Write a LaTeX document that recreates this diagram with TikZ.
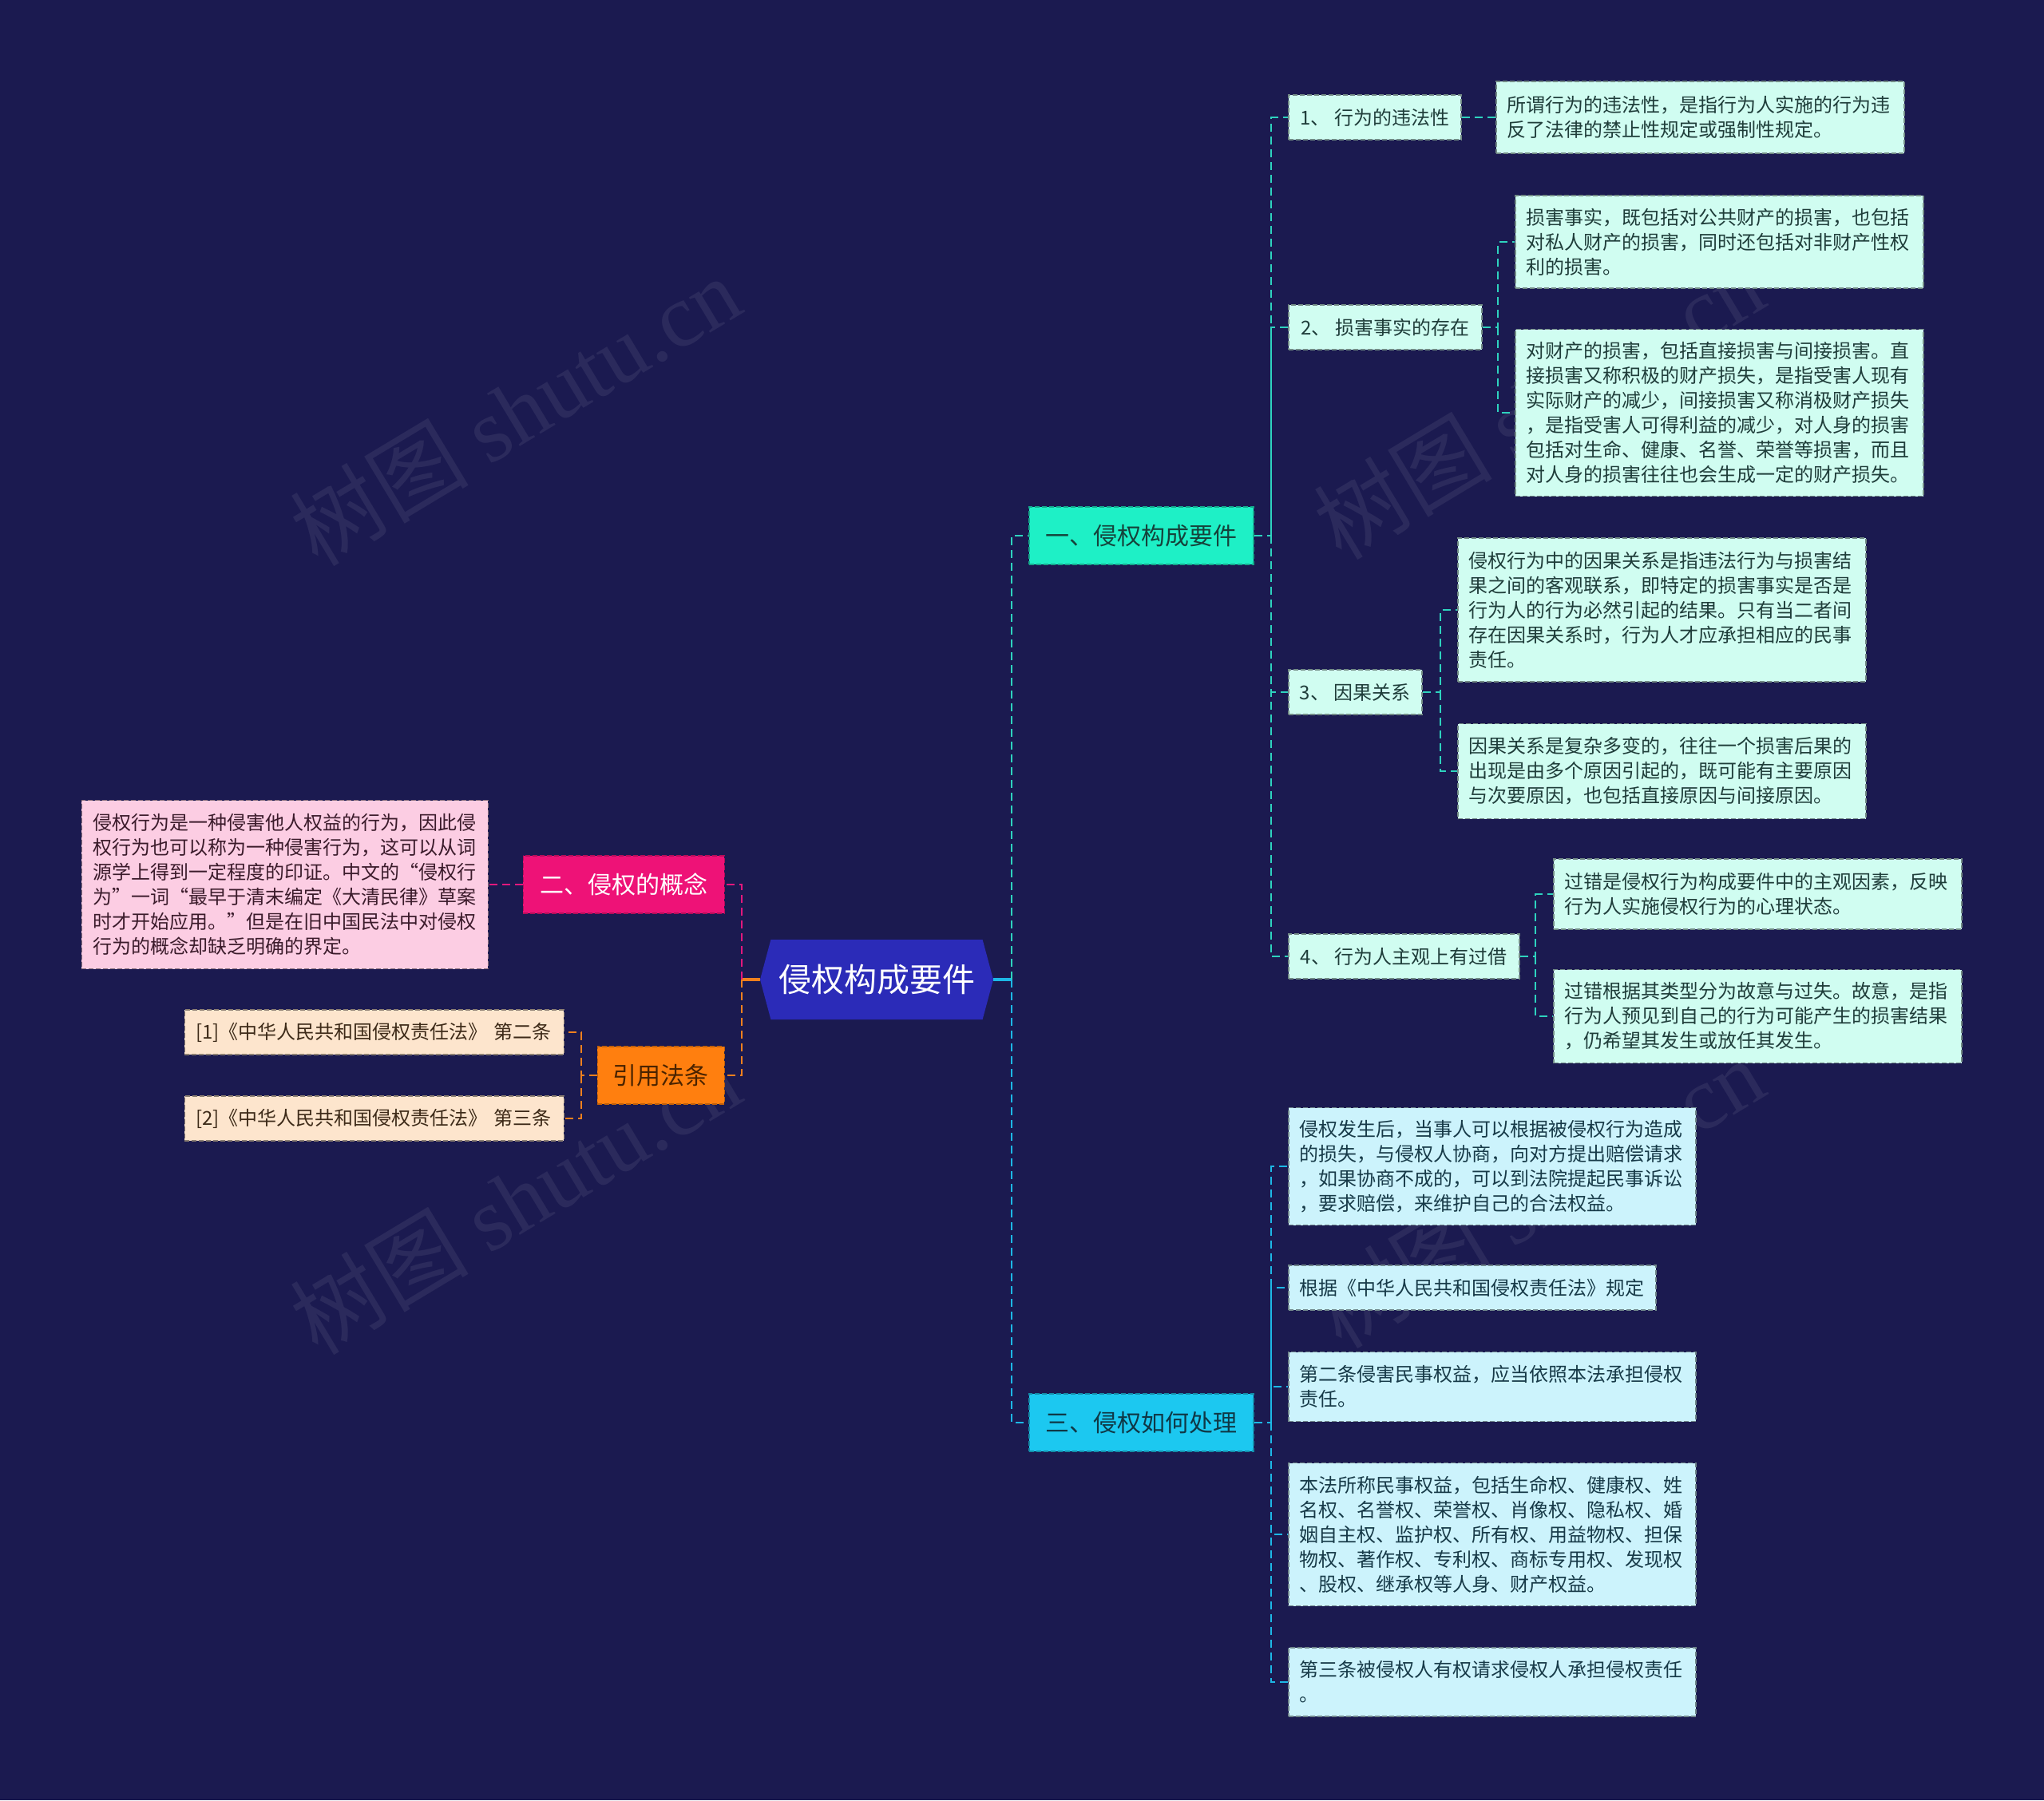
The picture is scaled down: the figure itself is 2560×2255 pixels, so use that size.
\documentclass[tikz,border=0pt]{standalone}
\usepackage{fontspec}
\setmainfont{Noto Sans CJK SC}
\newfontfamily\wmserif{Liberation Serif}
\usetikzlibrary{shapes.symbols}
\definecolor{bg}{HTML}{1B1A50}
\definecolor{hexblue}{HTML}{2B2BB8}
\definecolor{turq}{HTML}{1EF0C6}
\definecolor{turqtext}{HTML}{15433B}
\definecolor{turql}{HTML}{2ED3BE}
\definecolor{pinkfill}{HTML}{EE1277}
\definecolor{pinkl}{HTML}{E2187D}
\definecolor{orangefill}{HTML}{FF7F0F}
\definecolor{orangel}{HTML}{F0801E}
\definecolor{orangetext}{HTML}{4A2300}
\definecolor{cyanfill}{HTML}{1CC8F0}
\definecolor{cyanl}{HTML}{1DB8E6}
\definecolor{cyantext}{HTML}{0F3846}
\definecolor{mint}{HTML}{D0FDF1}
\definecolor{minttext}{HTML}{1F3D3A}
\definecolor{lcyan}{HTML}{CCF3FC}
\definecolor{lcyantext}{HTML}{173A48}
\definecolor{lpink}{HTML}{FCCDE3}
\definecolor{lpinktext}{HTML}{3B1B2B}
\definecolor{peach}{HTML}{FDE5CD}
\definecolor{peachtext}{HTML}{3D2A18}
\begin{document}
\begin{tikzpicture}[x=1pt,y=-1pt,
  box/.style={rectangle, line width=1.5pt, dash pattern=on 6pt off 3pt, inner sep=0pt, align=center},
  branch/.style={box, font=\fontsize{30}{36}\selectfont, minimum height=72pt},
  sub/.style={box, fill=mint, draw=mint!55!black, text=minttext, font=\fontsize{24}{31}\selectfont, minimum height=56pt, anchor=west},
  leaf/.style={box, align=left, inner xsep=14pt, inner ysep=0pt, font=\fontsize{24}{31}\selectfont},
  leafm/.style={leaf, fill=mint, draw=mint!55!black, text=minttext, text width=483pt, anchor=west},
  leafc/.style={leaf, fill=lcyan, draw=lcyan!55!black, text=lcyantext, text width=482pt, anchor=west},
  leafp/.style={leaf, fill=lpink, draw=lpink!55!black, text=lpinktext, anchor=east},
  leafo/.style={leaf, fill=peach, draw=peach!55!black, text=peachtext, anchor=east, minimum height=56pt, text width=447pt},
  conn/.style={line width=2.5pt, dash pattern=on 10pt off 6pt},
  turqline/.style={conn, draw=turql},
  cyanline/.style={conn, draw=cyanl},
  pinkline/.style={conn, draw=pinkl},
  orangeline/.style={conn, draw=orangel},
  wm/.style={text=white, opacity=0.07, font=\fontsize{112}{120}\selectfont, rotate=31}
]
\useasboundingbox (0,0) rectangle (2560,2255);
\fill[bg] (0,0) rectangle (2560,2255);

% watermarks
\node[wm] (wm1) at (645,514) {树图 {\wmserif shutu.cn}};
\node[wm] (wm2) at (645,1502) {树图 {\wmserif shutu.cn}};
\node[wm] (wm3) at (1927,506) {树图 {\wmserif shutu.cn}};
\node[wm] (wm4) at (1927,1494) {树图 {\wmserif shutu.cn}};

% root
\node[signal, signal to=west and east, signal pointer angle=150, fill=hexblue,
      minimum width=292pt, minimum height=100pt, inner sep=0pt, text=white,
      font=\fontsize{41}{48}\selectfont] (root) at (1098,1227) {侵权构成要件};

% main branches
\node[branch, fill=turq, draw=turq!70!black, text=turqtext, minimum width=281pt, anchor=west] (b1) at (1288,671) {一、侵权构成要件};
\node[branch, fill=pinkfill, draw=pinkfill!75!black, text=white, minimum width=252pt, anchor=east] (b2) at (908,1108) {二、侵权的概念};
\node[branch, fill=orangefill, draw=orangefill!75!black, text=orangetext, minimum width=159pt, anchor=east] (b4) at (908,1347) {引用法条};
\node[branch, fill=cyanfill, draw=cyanfill!70!black, text=cyantext, minimum width=281pt, anchor=west] (b3) at (1288,1782) {三、侵权如何处理};

% sub-branches of 一
\node[sub, minimum width=216pt] (c1) at (1613,147) {1、 行为的违法性};
\node[sub, minimum width=242pt] (c2) at (1613,410) {2、 损害事实的存在};
\node[sub, minimum width=167pt] (c3) at (1613,867) {3、 因果关系};
\node[sub, minimum width=289pt] (c4) at (1613,1198) {4、 行为人主观上有过借};

% leaves of 一
\node[leafm, minimum height=90pt] (l1) at (1873,147) {所谓行为的违法性，是指行为人实施的行为违\\反了法律的禁止性规定或强制性规定。};
\node[leafm, minimum height=116pt] (l2a) at (1897,303) {损害事实，既包括对公共财产的损害，也包括\\对私人财产的损害，同时还包括对非财产性权\\利的损害。};
\node[leafm, minimum height=209pt] (l2b) at (1897,517) {对财产的损害，包括直接损害与间接损害。直\\接损害又称积极的财产损失，是指受害人现有\\实际财产的减少，间接损害又称消极财产损失\\，是指受害人可得利益的减少，对人身的损害\\包括对生命、健康、名誉、荣誉等损害，而且\\对人身的损害往往也会生成一定的财产损失。};
\node[leafm, minimum height=180pt] (l3a) at (1825,764) {侵权行为中的因果关系是指违法行为与损害结\\果之间的客观联系，即特定的损害事实是否是\\行为人的行为必然引起的结果。只有当二者间\\存在因果关系时，行为人才应承担相应的民事\\责任。};
\node[leafm, minimum height=119pt] (l3b) at (1825,966) {因果关系是复杂多变的，往往一个损害后果的\\出现是由多个原因引起的，既可能有主要原因\\与次要原因，也包括直接原因与间接原因。};
\node[leafm, minimum height=88pt] (l4a) at (1945,1120) {过错是侵权行为构成要件中的主观因素，反映\\行为人实施侵权行为的心理状态。};
\node[leafm, minimum height=117pt] (l4b) at (1945,1273) {过错根据其类型分为故意与过失。故意，是指\\行为人预见到自己的行为可能产生的损害结果\\，仍希望其发生或放任其发生。};

% leaves of 三
\node[leafc, minimum height=147pt] (r1) at (1613,1461) {侵权发生后，当事人可以根据被侵权行为造成\\的损失，与侵权人协商，向对方提出赔偿请求\\，如果协商不成的，可以到法院提起民事诉讼\\，要求赔偿，来维护自己的合法权益。};
\node[leafc, minimum height=56pt, text width=432pt] (r2) at (1613,1613) {根据《中华人民共和国侵权责任法》规定};
\node[leafc, minimum height=87pt] (r3) at (1613,1737) {第二条侵害民事权益，应当依照本法承担侵权\\责任。};
\node[leafc, minimum height=179pt] (r4) at (1613,1922) {本法所称民事权益，包括生命权、健康权、姓\\名权、名誉权、荣誉权、肖像权、隐私权、婚\\姻自主权、监护权、所有权、用益物权、担保\\物权、著作权、专利权、商标专用权、发现权\\、股权、继承权等人身、财产权益。};
\node[leafc, minimum height=86pt] (r5) at (1613,2107) {第三条被侵权人有权请求侵权人承担侵权责任\\。};

% left leaves
\node[leafp, text width=481pt, minimum height=211pt] (p1) at (612,1108) {侵权行为是一种侵害他人权益的行为，因此侵\\权行为也可以称为一种侵害行为，这可以从词\\源学上得到一定程度的印证。中文的“侵权行\\为”一词“最早于清末编定《大清民律》草案\\时才开始应用。”但是在旧中国民法中对侵权\\行为的概念却缺乏明确的界定。};
\node[leafo] (q1) at (707,1293) {[1]《中华人民共和国侵权责任法》 第二条};
\node[leafo] (q2) at (707,1401) {[2]《中华人民共和国侵权责任法》 第三条};

% junctions
\coordinate (rj) at (1267,1227);
\coordinate (lj) at (929,1227);
\coordinate (j1) at (1592,671);
\coordinate (j2) at (1876,410);
\coordinate (j3) at (1804,867);
\coordinate (j4) at (1923,1198);
\coordinate (j5) at (1592,1782);
\coordinate (j6) at (728,1347);

% connectors
\draw[cyanl, line width=4pt] (root.east) -- (rj);
\draw[orangel, line width=4pt] (root.west) -- (lj);
\draw[turqline] (rj) |- (b1.west);
\draw[cyanline] (rj) |- (b3.west);
\draw[pinkline] (lj) |- (b2.east);
\draw[orangeline] (lj) |- (b4.east);

\draw[turqline] (b1.east) -- (j1) |- (c1.west);
\draw[turqline] (j1) |- (c2.west);
\draw[turqline] (j1) |- (c3.west);
\draw[turqline] (j1) |- (c4.west);
\draw[turqline] (c1.east) -- (l1.west);
\draw[turqline] (c2.east) -- (j2) |- (l2a.west);
\draw[turqline] (j2) |- (l2b.west);
\draw[turqline] (c3.east) -- (j3) |- (l3a.west);
\draw[turqline] (j3) |- (l3b.west);
\draw[turqline] (c4.east) -- (j4) |- (l4a.west);
\draw[turqline] (j4) |- (l4b.west);

\draw[cyanline] (b3.east) -- (j5) |- (r1.west);
\draw[cyanline] (j5) |- (r2.west);
\draw[cyanline] (j5) |- (r3.west);
\draw[cyanline] (j5) |- (r4.west);
\draw[cyanline] (j5) |- (r5.west);

\draw[pinkline] (b2.west) -- (p1.east);
\draw[orangeline] (b4.west) -- (j6) |- (q1.east);
\draw[orangeline] (j6) |- (q2.east);
\end{tikzpicture}
\end{document}
